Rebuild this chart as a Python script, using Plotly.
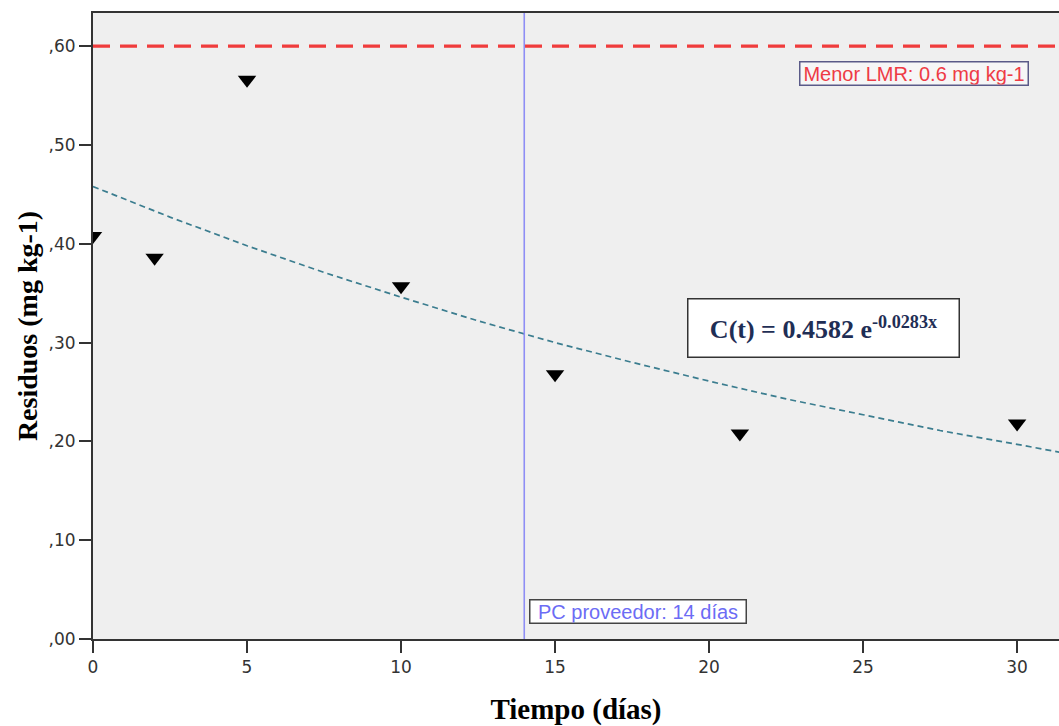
import plotly.graph_objects as go

# Data
dias = [0, 2, 5, 10, 15, 21, 30]
residuos = [0.408, 0.386, 0.566, 0.357, 0.268, 0.208, 0.218]

# Fitted exponential curve
fit_x = [0, 2.5, 5, 7.5, 10, 12.5, 15, 17.5, 20, 22.5, 25, 27.5, 30, 31.4]
fit_y = [0.458, 0.427, 0.398, 0.371, 0.346, 0.322, 0.300, 0.280, 0.261, 0.243, 0.227, 0.211, 0.197, 0.189]

lmr_value = 0.6
pc_dias = 14

x_ticks = [0, 5, 10, 15, 20, 25, 30]
y_ticks = [0.0, 0.1, 0.2, 0.3, 0.4, 0.5, 0.6]
y_ticktext = [",00", ",10", ",20", ",30", ",40", ",50", ",60"]

x_range = [0, 31.36]
y_range = [0, 0.6336]

fig = go.Figure()

# Fit line
fig.add_trace(go.Scatter(
    x=fit_x, y=fit_y, mode="lines",
    line=dict(color="#3b7d8f", width=1.7, dash="6px,4px"),
    hoverinfo="skip", showlegend=False,
))

# LMR horizontal line
fig.add_trace(go.Scatter(
    x=x_range, y=[lmr_value, lmr_value], mode="lines",
    line=dict(color="#f03c3c", width=3.2, dash="17px,10px"),
    hoverinfo="skip", showlegend=False,
))

# PC vertical line
fig.add_trace(go.Scatter(
    x=[pc_dias, pc_dias], y=y_range, mode="lines",
    line=dict(color="#8e8ef5", width=1.6),
    hoverinfo="skip", showlegend=False,
))

# Data points
fig.add_trace(go.Scatter(
    x=dias, y=residuos, mode="markers",
    marker=dict(symbol="triangle-down", size=16, color="black"),
    showlegend=False,
))

axis_common = dict(
    showgrid=False, zeroline=False, showline=True, linecolor="#333333", linewidth=2,
    ticks="outside", ticklen=12, tickwidth=2, tickcolor="#333333",
    tickfont=dict(family="DejaVu Sans", size=17, color="#333333"),
)

fig.update_xaxes(
    range=x_range, tickvals=x_ticks, mirror=True,
    title=dict(text="<b>Tiempo (días)</b>", font=dict(family="Liberation Serif", size=29, color="black"), standoff=26),
    **axis_common,
)
fig.update_yaxes(
    range=y_range, tickvals=y_ticks, ticktext=y_ticktext,
    title=dict(text="<b>Residuos (mg kg-1)</b>", font=dict(family="Liberation Serif", size=28, color="black"), standoff=3),
    **axis_common,
)

fig.add_annotation(
    x=23.72, y=0.3143, xref="x", yref="y", showarrow=False,
    text="<b>C(t) = 0.4582 e<sup>-0.0283x</sup></b>",
    font=dict(family="Liberation Serif", size=26, color="#1f2e55"),
    bgcolor="white", bordercolor="#333333", borderwidth=1.5,
    width=268, height=55,
)
fig.add_annotation(
    x=26.64, y=0.572, xref="x", yref="y", showarrow=False,
    text="Menor LMR: 0.6 mg kg-1",
    font=dict(family="Liberation Sans", size=20, color="#ee3b45"),
    bgcolor="#f6f6f6", bordercolor="#5a5a88", borderwidth=1.5, borderpad=0,
    width=227, height=22,
)
fig.add_annotation(
    x=17.69, y=0.0278, xref="x", yref="y", showarrow=False,
    text="PC proveedor: 14 días",
    font=dict(family="Liberation Sans", size=20, color="#6c6cf5"),
    bgcolor="white", bordercolor="#444444", borderwidth=1.5, borderpad=0,
    width=215, height=22,
)

fig.update_layout(
    width=1059, height=726,
    margin=dict(l=93, r=0, t=13, b=87),
    paper_bgcolor="white", plot_bgcolor="#efefef",
)

fig.write_html(
    "out.html",
    config={"displayModeBar": False},
    post_script="document.body.style.margin='0';document.body.style.overflow='hidden';",
)
